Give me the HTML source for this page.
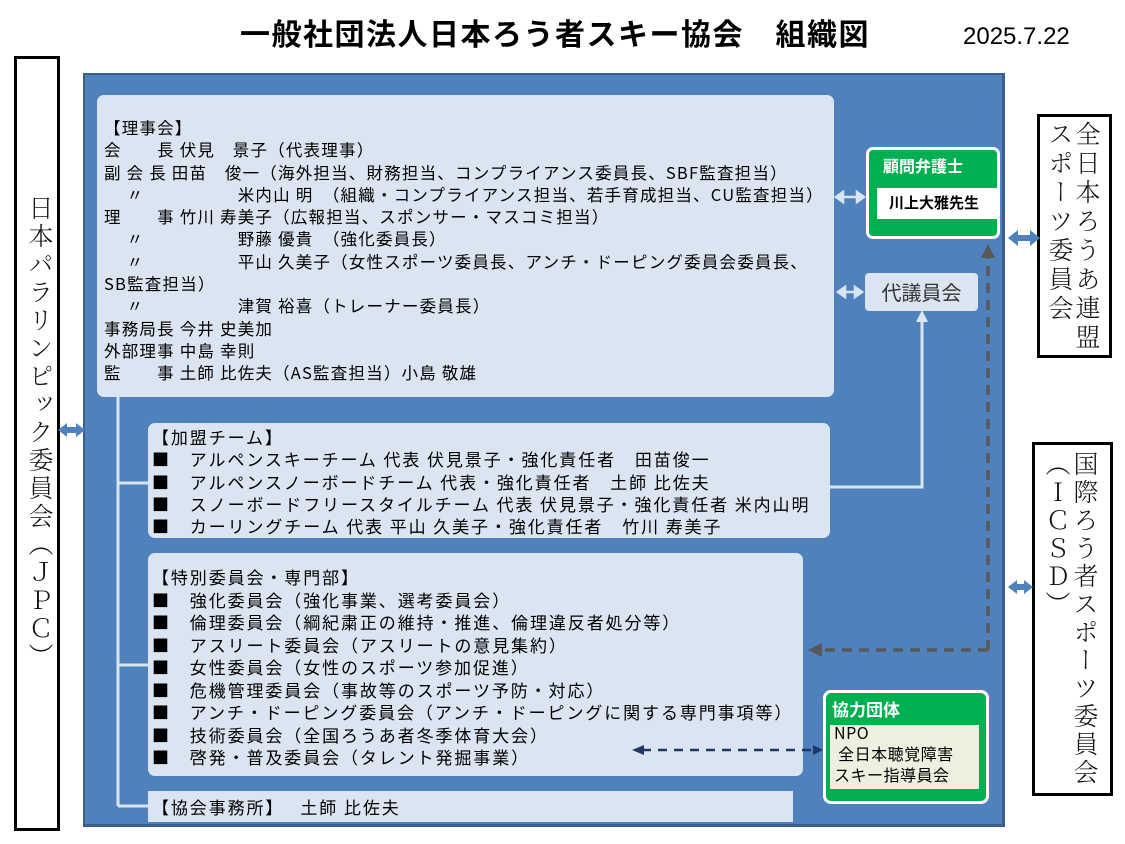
<!DOCTYPE html>
<html><head><meta charset="utf-8"><style>
body{margin:0;width:1125px;height:844px;background:#fff;position:relative;overflow:hidden;font-family:"Noto Sans CJK JP","Liberation Sans",sans-serif;}
.a{position:absolute;}
.box{position:absolute;background:#dbe5f1;border-radius:7px;}
.t{position:absolute;font-size:16.5px;letter-spacing:1.2px;line-height:22.3px;white-space:pre;color:#000;font-family:"Noto Sans CJK JP",sans-serif;}
.t2{font-size:17px;letter-spacing:1.9px;}
.vbox{position:absolute;border:3px solid #000;background:#fff;box-sizing:border-box;}
.v{writing-mode:vertical-rl;font-family:"Noto Serif CJK SC","Noto Sans CJK JP",serif;font-size:25px;letter-spacing:2px;color:#111;font-weight:300;position:absolute;}
</style></head><body>
<div class="a" style="left:240px;top:10px;font-size:30px;font-weight:bold;letter-spacing:1.5px;line-height:44px;white-space:nowrap">一般社団法人日本ろう者スキー協会　組織図</div>
<div class="a" style="left:963px;top:23px;font-size:24px;font-family:'Liberation Sans',sans-serif">2025.7.22</div>

<div class="vbox" style="left:14px;top:56px;width:46px;height:775px"><div class="v" style="left:6px;top:136px;letter-spacing:3px">日本パラリンピック委員会（ＪＰＣ）</div></div>
<div class="vbox" style="left:1037px;top:114px;width:75px;height:244px"><div class="v" style="left:7px;top:4px;line-height:27px;letter-spacing:4px">全日本ろうあ連盟スポーツ委員会</div></div>
<div class="vbox" style="left:1032px;top:442px;width:81px;height:354px"><div class="v" style="left:9px;top:6px;line-height:28px;letter-spacing:3px">国際ろう者スポーツ委員会（ＩＣＳＤ）</div></div>

<div class="a" style="left:83px;top:73px;width:922px;height:754px;background:#4f81bd;border-right:3px solid #3a5f8c;border-bottom:3px solid #3a5f8c;border-top:2px solid #3a5f8c;border-left:2px solid #3a5f8c;box-sizing:border-box"></div>

<svg class="a" style="left:0;top:0" width="1125" height="844">
<g stroke="#dbe5f1" stroke-width="3" fill="none">
<path d="M118 397 V806 M118 483 H150 M118 665 H150 M118 806 H150"/>
<path d="M830 487 H922 V318"/>
</g>
<path d="M916 322 L922 310 L928 322 Z" fill="#dbe5f1"/>
<g stroke="#dbe5f1" stroke-width="2.5" fill="#dbe5f1">
<path d="M840 197 H860" /><path d="M836 197 l7 -5 v10 z M864 197 l-7 -5 v10 z"/>
<path d="M842 292 H858" /><path d="M838 292 l7 -5 v10 z M862 292 l-7 -5 v10 z"/>
</g>
<path d="M988 650 V252" stroke="#595959" stroke-width="3.5" stroke-dasharray="10,7" fill="none"/>
<path d="M981 258 L988 244 L995 258 Z" fill="#595959"/>
<path d="M988 650 H820" stroke="#595959" stroke-width="3.5" stroke-dasharray="10,7" fill="none"/>
<path d="M822 643 L808 650 L822 657 Z" fill="#595959"/>
<g fill="#4f81bd">
<path d="M58 430 l9 -7 v4 h9 v-4 l9 7 l-9 7 v-4 h-9 v4 z"/>
<path d="M1008 238 l10 -8 v5 h12 v-5 l10 8 l-10 8 v-5 h-12 v5 z"/>
<path d="M1008 587 l9 -7 v4 h7 v-4 l9 7 l-9 7 v-4 h-7 v4 z"/>
</g>
</svg>

<div class="box" style="left:97px;top:95px;width:737px;height:302px"></div>
<div class="t" style="left:104px;top:116px">【理事会】
会　　長 伏見　景子（代表理事）
副 会 長 田苗　俊一（海外担当、財務担当、コンプライアンス委員長、SBF監査担当）
　 〃　　　　　 米内山 明　（組織・コンプライアンス担当、若手育成担当、CU監査担当）
理　　事 竹川 寿美子（広報担当、スポンサー・マスコミ担当）
　 〃　　　　　 野藤 優貴　（強化委員長）
　 〃　　　　　 平山 久美子（女性スポーツ委員長、アンチ・ドーピング委員会委員長、
SB監査担当）
　 〃　　　　　 津賀 裕喜（トレーナー委員長）
事務局長 今井 史美加
外部理事 中島 幸則
監　　事 土師 比佐夫（AS監査担当）小島 敬雄</div>

<div class="box" style="left:148px;top:423px;width:682px;height:115px"></div>
<div class="t t2" style="left:152px;top:426px">【加盟チーム】
■　アルペンスキーチーム 代表 伏見景子・強化責任者　田苗俊一
■　アルペンスノーボードチーム 代表・強化責任者　土師 比佐夫
■　スノーボードフリースタイルチーム 代表 伏見景子・強化責任者 米内山明
■　カーリングチーム 代表 平山 久美子・強化責任者　竹川 寿美子</div>

<div class="box" style="left:148px;top:553px;width:655px;height:223px"></div>
<div class="t t2" style="left:152px;top:566px;line-height:22.5px">【特別委員会・専門部】
■　強化委員会（強化事業、選考委員会）
■　倫理委員会（綱紀粛正の維持・推進、倫理違反者処分等）
■　アスリート委員会（アスリートの意見集約）
■　女性委員会（女性のスポーツ参加促進）
■　危機管理委員会（事故等のスポーツ予防・対応）
■　アンチ・ドーピング委員会（アンチ・ドーピングに関する専門事項等）
■　技術委員会（全国ろうあ者冬季体育大会）
■　啓発・普及委員会（タレント発掘事業）</div>

<div class="a" style="left:148px;top:791px;width:645px;height:31px;background:#dbe5f1"></div>
<div class="t t2" style="left:152px;top:796px">【協会事務所】　 土師 比佐夫</div>

<div class="a" style="left:866px;top:147px;width:134px;height:92px;background:#00b050;border:3px solid #fff;border-radius:7px;box-sizing:border-box"></div>
<div class="a" style="left:883px;top:153px;color:#fff;font-weight:bold;font-size:16px">顧問弁護士</div>
<div class="a" style="left:877px;top:188px;width:120px;height:31px;background:#fff"></div>
<div class="a" style="left:889px;top:192px;font-size:15px;font-weight:bold">川上大雅先生</div>

<div class="a" style="left:865px;top:273px;width:113px;height:38px;background:#dbe5f1;border-radius:4px;font-size:20px;line-height:38px;text-align:center;color:#333">代議員会</div>

<div class="a" style="left:823px;top:690px;width:166px;height:114px;background:#00b050;border:3px solid #fff;border-radius:8px;box-sizing:border-box"></div>
<div class="a" style="left:832px;top:696px;color:#fff;font-weight:bold;font-size:17px">協力団体</div>
<div class="a" style="left:830px;top:725px;width:149px;height:64px;background:#ebf1de"></div>
<div class="a" style="left:834px;top:722px;font-size:16px;letter-spacing:0.5px;line-height:21px;white-space:pre">NPO
 全日本聴覚障害
スキー指導員会</div>

<svg class="a" style="left:0;top:0" width="1125" height="844">
<path d="M642 750 H812" stroke="#1f3864" stroke-width="2.5" stroke-dasharray="9,7" fill="none"/>
<path d="M632 750 L644 745 L644 755 Z M823 750 L813 745 L813 755 Z" fill="#1f3864"/>
</svg>
</body></html>
